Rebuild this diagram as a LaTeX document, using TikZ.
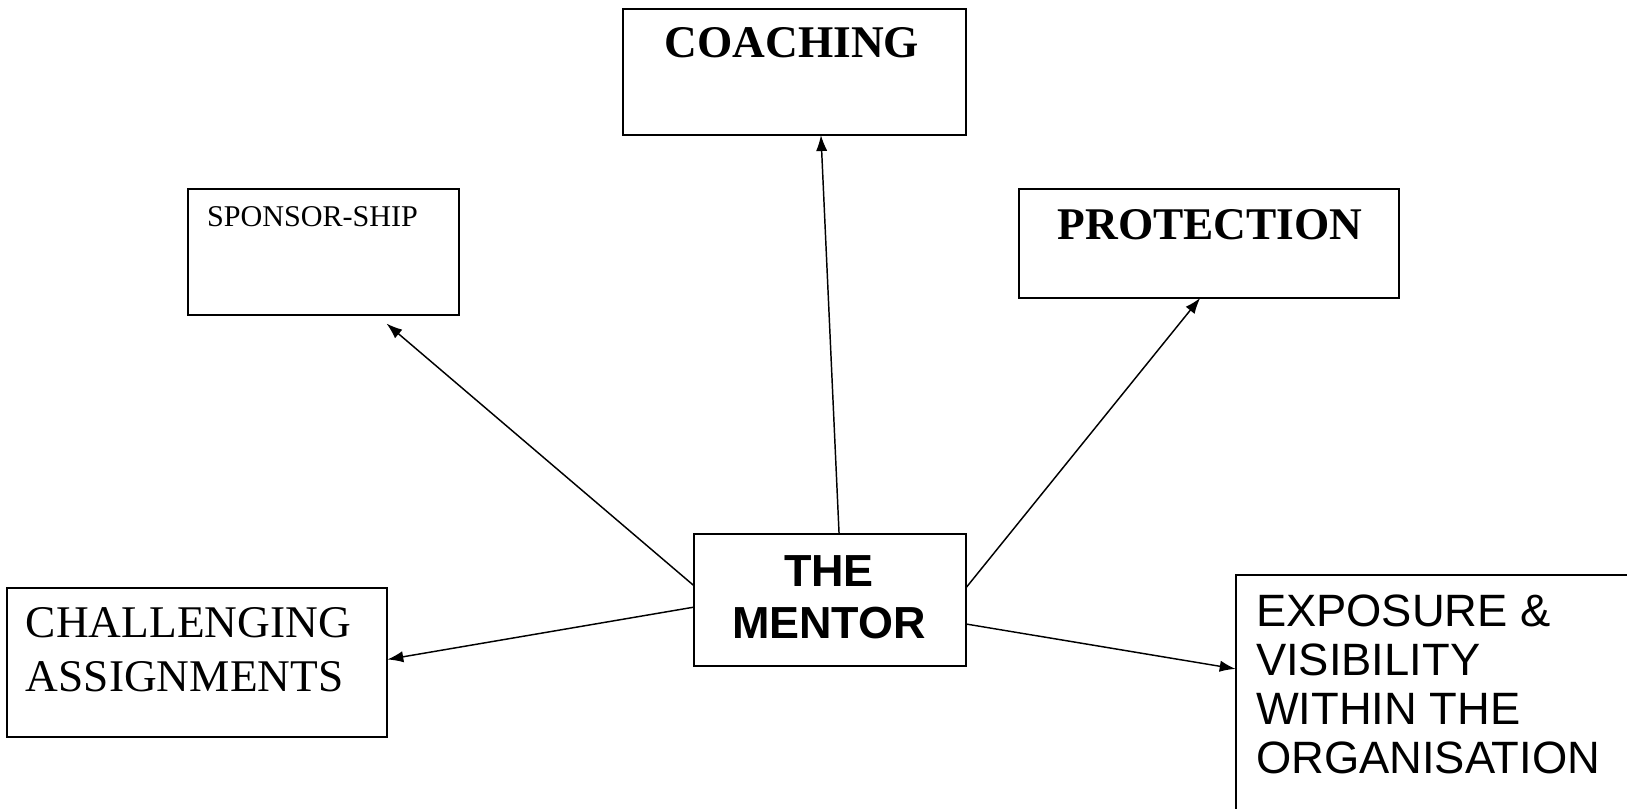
\documentclass[tikz,border=0pt]{standalone}
\usepackage{fontspec}
\setmainfont{Liberation Serif}
\newfontfamily\arialfont{Liberation Sans}
\usetikzlibrary{arrows.meta}

\begin{document}
\begin{tikzpicture}[x=0.75pt,y=-0.75pt]

\tikzset{box/.style = {shape=rectangle,draw,line width=1.4pt,inner sep=0pt,outer sep=0pt}}
\tikzset{edge/.style = {-{Latex[length=12pt,width=8.5pt]},line width=1.1pt}}
\tikzset{label/.style = {inner sep=0pt,outer sep=0pt}}

\useasboundingbox (0,0) rectangle (1627,809);
\clip (0,0) rectangle (1627,809);

\node[box,minimum width=257.3pt,minimum height=94.5pt] (coaching) at (794.2,72) {};
\node[box,minimum width=203.3pt,minimum height=94.3pt] (sponsor) at (323.8,252.2) {};
\node[box,minimum width=284.8pt,minimum height=81.8pt] (protection) at (1208.9,243.3) {};
\node[box,minimum width=203.8pt,minimum height=98.6pt] (mentor) at (829.85,600) {};
\node[box,minimum width=285pt,minimum height=111.8pt] (challenging) at (197.3,662.8) {};
\node[box,minimum width=318.2pt,minimum height=191.3pt] (exposure) at (1447.85,702.5) {};

\node[label,anchor=base,font=\fontsize{34}{40}\selectfont\bfseries] (coachingtext) at (792,58) {COACHING};
\node[label,anchor=base west,font=\fontsize{22.6}{26}\selectfont] (sponsortext) at (207,226.7) {SPONSOR-SHIP};
\node[label,anchor=base,font=\fontsize{34}{40}\selectfont\bfseries] (protectiontext) at (1210,240) {PROTECTION};
\node[label,anchor=base,align=center,font=\arialfont\bfseries\fontsize{33.7}{38.5}\selectfont] (mentortext) at (829,638) {THE\\MENTOR};
\node[label,anchor=base west,align=left,font=\fontsize{34}{40.3}\selectfont] (challengingtext) at (26,691.7) {CHALLENGING\\ASSIGNMENTS};
\node[label,anchor=base west,align=left,font=\arialfont\fontsize{34}{36.6}\selectfont] (exposuretext) at (1256,773) {EXPOSURE \&\\VISIBILITY\\WITHIN THE\\ORGANISATION};

\draw[edge] (mentor.82.5) -- (coaching.293);
\draw[edge,shorten >=9.75pt] (mentor.174) -- (sponsor.310);
\draw[edge] (mentor.5) -- (protection.261.1);
\draw[edge] (mentor.183) -- (challenging.1);
\draw[edge] (mentor.350) -- (exposure.171.3);

\end{tikzpicture}
\end{document}
